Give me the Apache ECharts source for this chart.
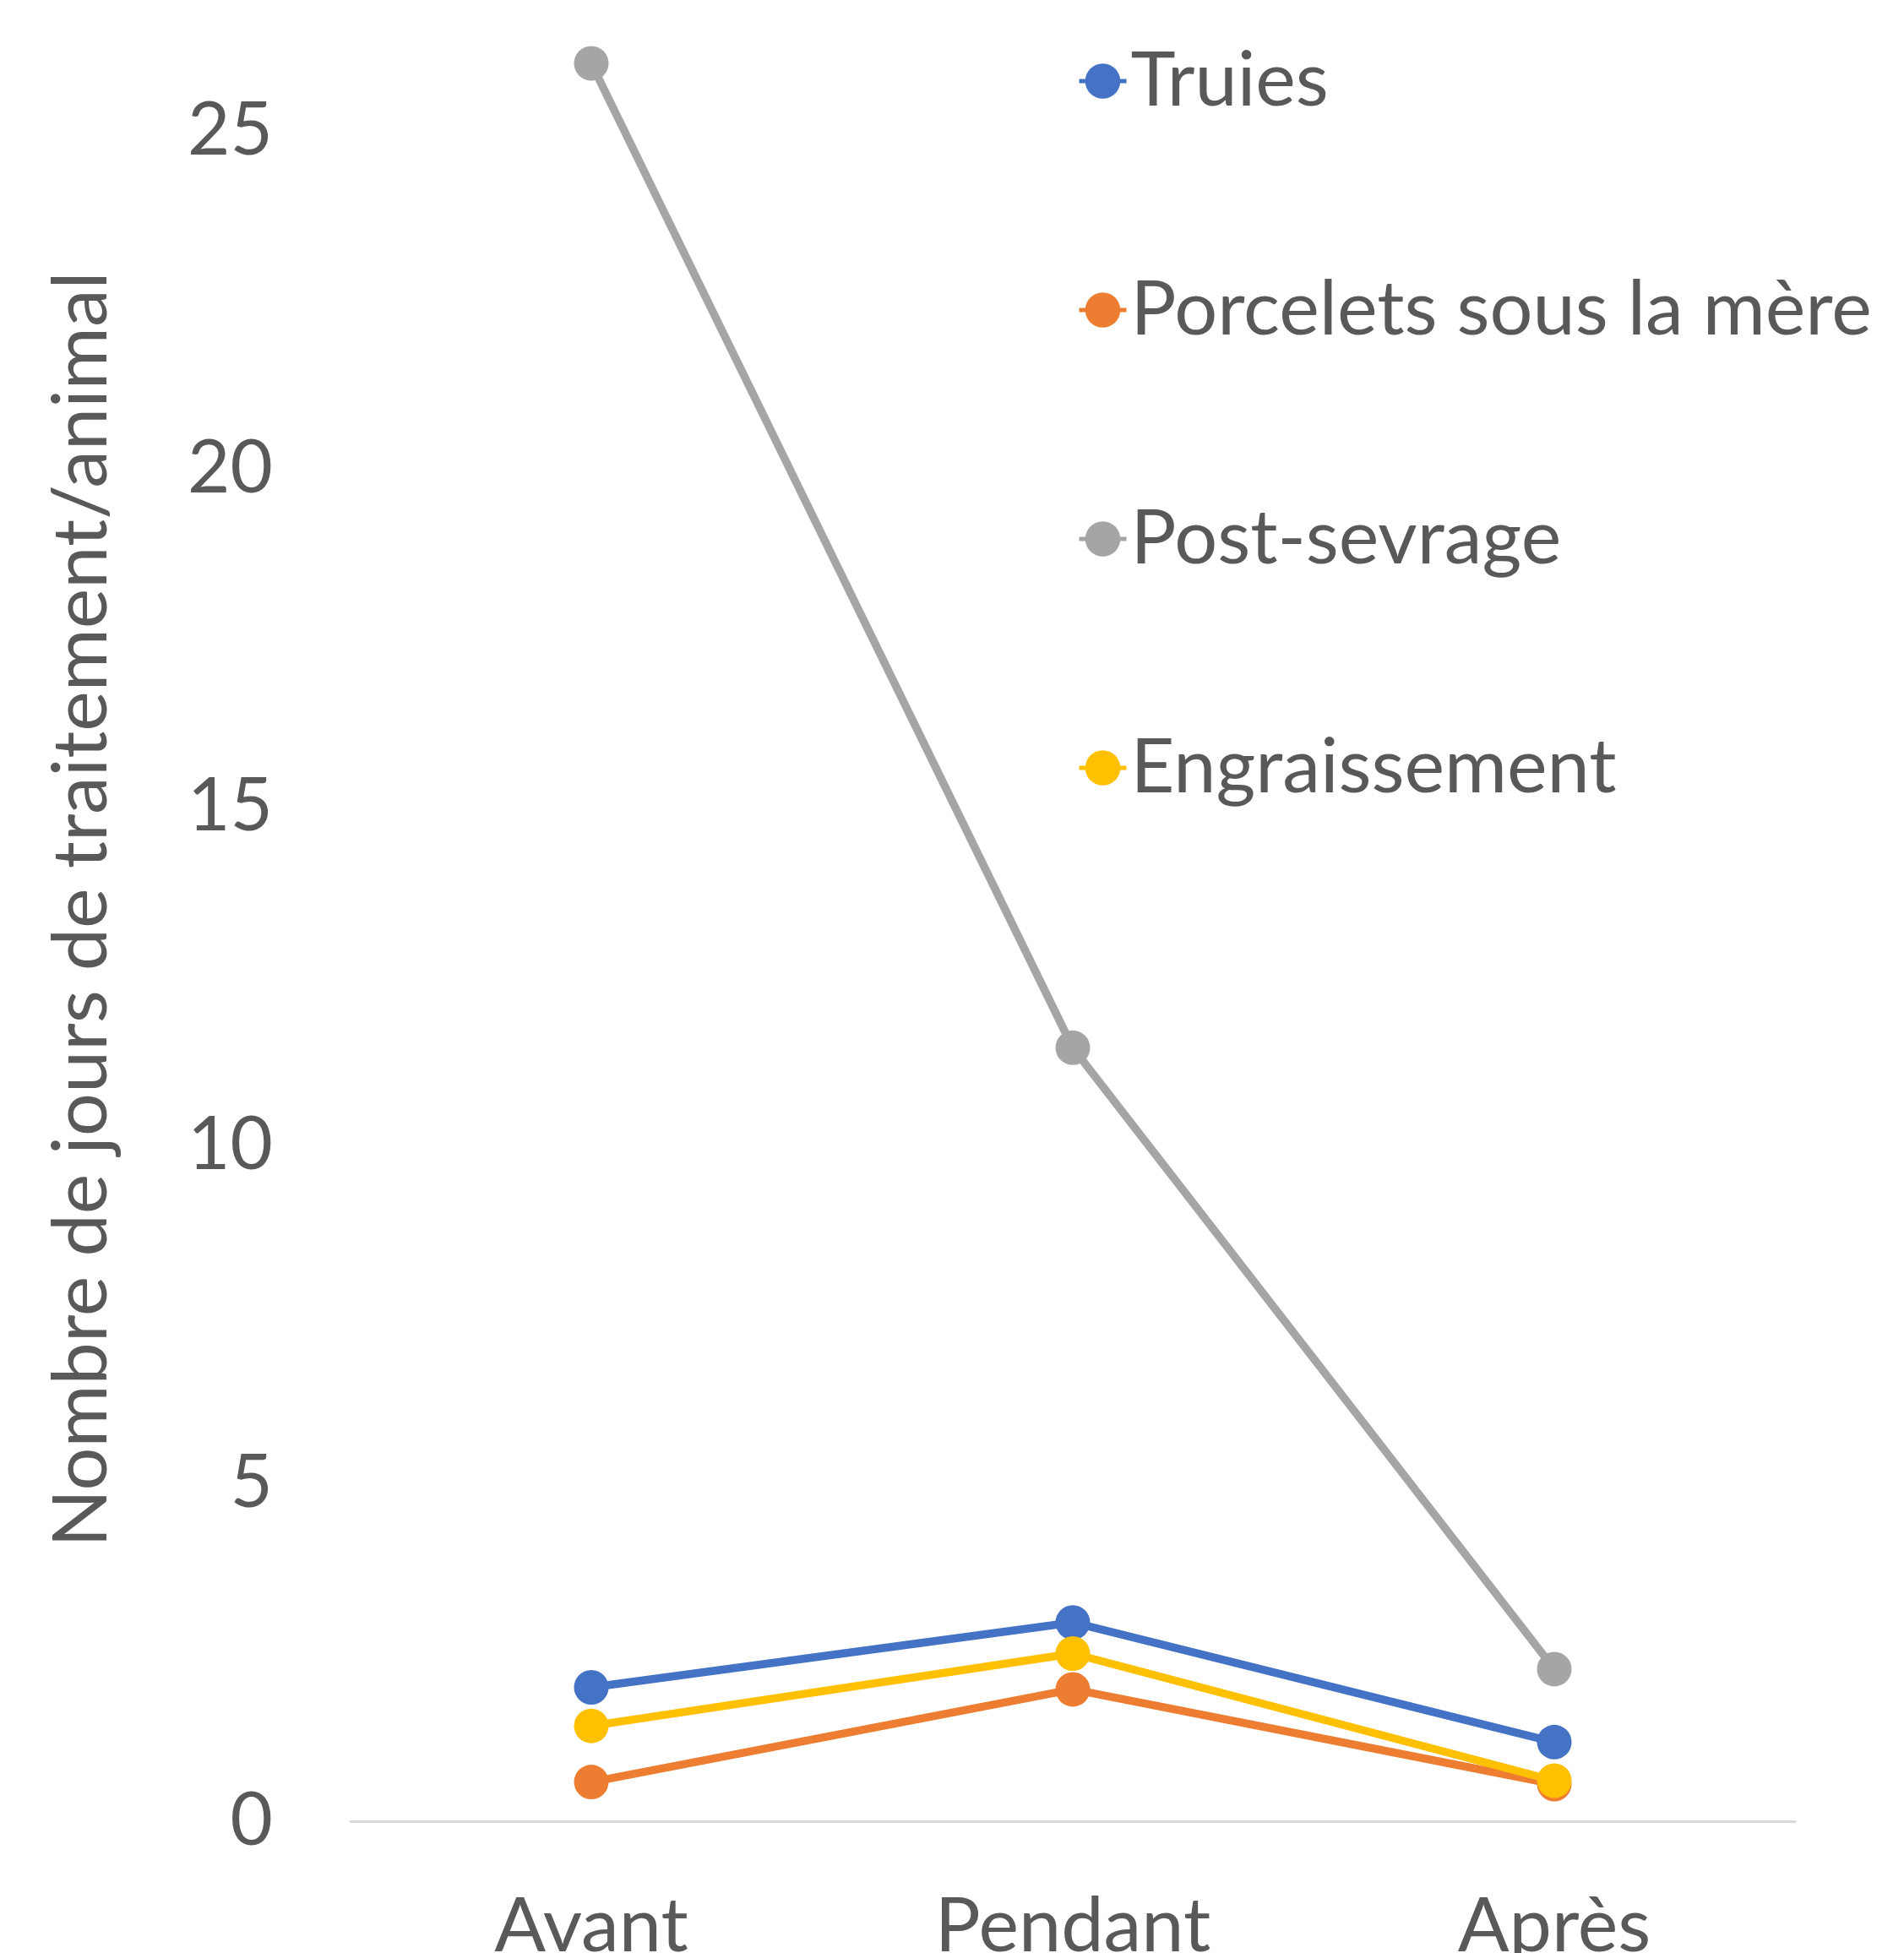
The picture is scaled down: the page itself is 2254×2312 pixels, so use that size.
<!DOCTYPE html>
<html>
<head>
<meta charset="utf-8">
<script src="https://cdn.jsdelivr.net/npm/echarts@6/dist/echarts.min.js"></script>
<style>
  html, body { margin: 0; padding: 0; background: #ffffff; }
  #chart { width: 2254px; height: 2312px; }
</style>
</head>
<body>
<div id="chart"></div>
<script>
const categories = ['Avant', 'Pendant', 'Après'];
const seriesNames = ['Truies', 'Porcelets sous la mère', 'Post-sevrage', 'Engraissement'];
const truies = [1.98, 2.94, 1.17];
const porcelets = [0.58, 1.95, 0.55];
const postSevrage = [26.0, 11.44, 2.25];
const engraissement = [1.41, 2.48, 0.60];
const colors = ['#4472C4', '#ED7D31', '#A5A5A5', '#FFC000'];
const yTitle = 'Nombre de jours de traitement/animal';

const FONT = 'Lato';
const TXT = '#595959';
const FS_NUM = 87;
const FS_TXT = 90;

const chart = echarts.init(document.getElementById('chart'), null, { renderer: 'canvas' });

const dataSets = [truies, porcelets, postSevrage, engraissement];

chart.setOption({
  backgroundColor: '#ffffff',
  animation: false,
  color: colors,
  textStyle: { fontFamily: FONT },
  grid: { left: 415, right: 129, top: 35, bottom: 156, containLabel: false, outerBoundsMode: 'none' },
  legend: {
    orient: 'vertical',
    left: 1275,
    top: 51,
    padding: 0,
    itemWidth: 56,
    itemHeight: 52,
    itemGap: 181,
    lineStyle: { width: 5 },
    textStyle: { fontFamily: FONT, fontSize: FS_TXT, color: TXT },
    data: seriesNames
  },
  xAxis: {
    type: 'category',
    data: categories,
    boundaryGap: true,
    axisLine: { show: true, lineStyle: { color: '#D9D9D9', width: 3 } },
    axisTick: { show: false },
    axisLabel: { fontFamily: FONT, fontSize: FS_TXT, color: TXT, margin: 80 },
    splitLine: { show: false }
  },
  yAxis: {
    type: 'value',
    min: 0,
    max: 26.5,
    interval: 5,
    name: yTitle,
    nameLocation: 'middle',
    nameGap: 273,
    nameTextStyle: { fontFamily: FONT, fontSize: FS_TXT, color: TXT, padding: [0, 0, 0, 38] },
    axisLine: { show: false },
    axisTick: { show: false },
    splitLine: { show: false },
    axisLabel: {
      fontFamily: FONT, fontSize: FS_NUM, color: TXT, margin: 92,
      formatter: function (v) { return (Math.abs(v % 5) < 1e-9) ? String(v) : ''; }
    }
  },
  series: seriesNames.map(function (name, i) {
    return {
      name: name,
      type: 'line',
      data: dataSets[i],
      symbol: 'circle',
      symbolSize: 41,
      lineStyle: { width: 9.5, color: colors[i] },
      itemStyle: { color: colors[i] },
      z: 2 + i
    };
  })
});
</script>
</body>
</html>
